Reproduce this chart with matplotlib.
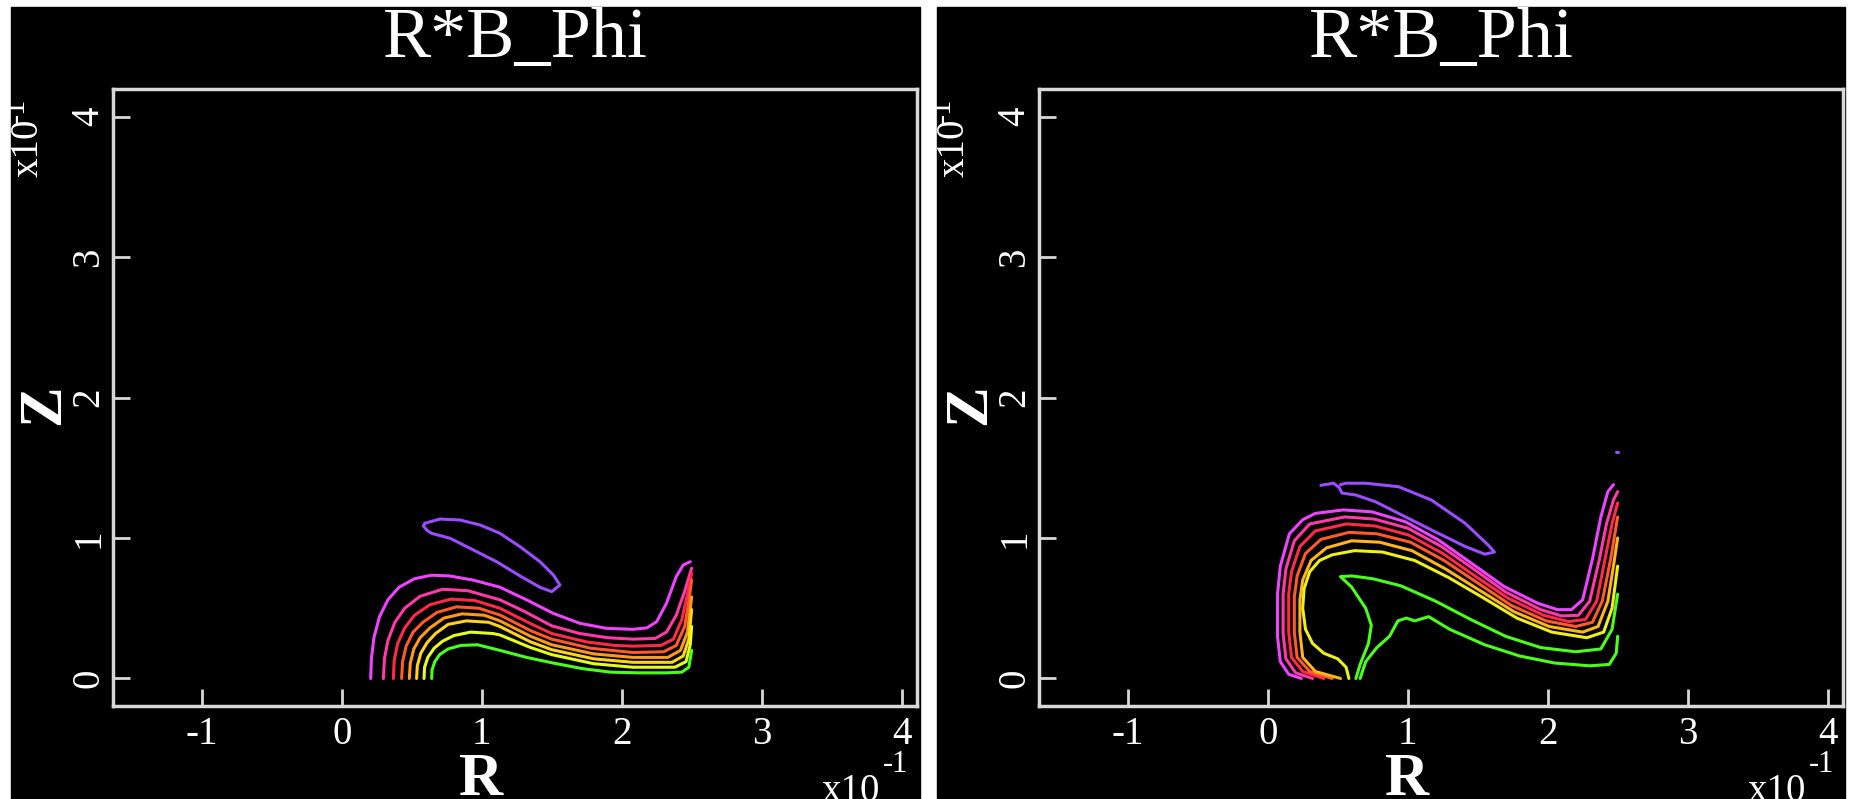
import matplotlib.pyplot as plt
from matplotlib.patches import Rectangle
import numpy as np

# contour lines of R*B_Phi, coordinates in units of 1e-1
# ---- left frame ----
L_magenta_r = [0.207, 0.212, 0.23, 0.27, 0.33, 0.41, 0.52, 0.64, 0.77, 0.94, 1.13, 1.32, 1.51, 1.70, 1.89, 2.08, 2.18, 2.25, 2.32, 2.39, 2.44, 2.49]
L_magenta_z = [0.00, 0.14, 0.29, 0.44, 0.56, 0.65, 0.71, 0.735, 0.73, 0.70, 0.65, 0.56, 0.464, 0.393, 0.357, 0.35, 0.36, 0.404, 0.535, 0.725, 0.808, 0.831]
L_pink_r = [0.298, 0.305, 0.33, 0.38, 0.45, 0.56, 0.72, 0.90, 1.13, 1.30, 1.50, 1.70, 1.90, 2.08, 2.24, 2.32, 2.39, 2.45, 2.50]
L_pink_z = [0.00, 0.14, 0.27, 0.40, 0.50, 0.585, 0.635, 0.625, 0.56, 0.48, 0.375, 0.32, 0.29, 0.28, 0.285, 0.33, 0.45, 0.62, 0.785]
L_red_r = [0.369, 0.375, 0.40, 0.45, 0.52, 0.63, 0.78, 0.95, 1.13, 1.35, 1.50, 1.75, 1.95, 2.08, 2.28, 2.37, 2.43, 2.47, 2.50]
L_red_z = [0.00, 0.13, 0.25, 0.36, 0.45, 0.525, 0.565, 0.555, 0.50, 0.39, 0.32, 0.26, 0.235, 0.23, 0.235, 0.28, 0.42, 0.60, 0.75]
L_ored_r = [0.428, 0.435, 0.46, 0.51, 0.58, 0.68, 0.82, 0.98, 1.13, 1.35, 1.50, 1.78, 2.08, 2.30, 2.39, 2.45, 2.48, 2.50]
L_ored_z = [0.00, 0.12, 0.23, 0.33, 0.40, 0.47, 0.51, 0.50, 0.452, 0.34, 0.28, 0.215, 0.185, 0.19, 0.235, 0.37, 0.55, 0.70]
L_orange_r = [0.483, 0.49, 0.515, 0.56, 0.63, 0.73, 0.86, 1.02, 1.13, 1.35, 1.50, 1.80, 2.08, 2.33, 2.42, 2.47, 2.50]
L_orange_z = [0.00, 0.11, 0.21, 0.29, 0.36, 0.43, 0.46, 0.45, 0.41, 0.30, 0.24, 0.175, 0.15, 0.15, 0.20, 0.33, 0.58]
L_yelor_r = [0.535, 0.54, 0.565, 0.61, 0.67, 0.76, 0.89, 1.05, 1.13, 1.35, 1.50, 1.80, 2.08, 2.36, 2.44, 2.48, 2.50]
L_yelor_z = [0.00, 0.09, 0.18, 0.255, 0.32, 0.385, 0.41, 0.40, 0.37, 0.26, 0.205, 0.14, 0.115, 0.115, 0.16, 0.28, 0.49]
L_yelgr_r = [0.588, 0.592, 0.615, 0.66, 0.72, 0.80, 0.92, 1.08, 1.13, 1.35, 1.50, 1.80, 2.08, 2.38, 2.46, 2.49, 2.50]
L_yelgr_z = [0.00, 0.08, 0.15, 0.215, 0.265, 0.305, 0.33, 0.32, 0.31, 0.22, 0.17, 0.105, 0.08, 0.08, 0.12, 0.24, 0.37]
L_green_r = [0.643, 0.645, 0.665, 0.70, 0.76, 0.85, 0.97, 1.13, 1.32, 1.51, 1.72, 1.92, 2.12, 2.32, 2.43, 2.48, 2.50]
L_green_z = [0.00, 0.06, 0.12, 0.17, 0.21, 0.235, 0.24, 0.20, 0.15, 0.11, 0.07, 0.045, 0.04, 0.04, 0.045, 0.08, 0.20]
L_purple_r = [0.595, 0.702, 0.845, 0.988, 1.131, 1.274, 1.417, 1.512, 1.559, 1.50, 1.417, 1.274, 1.107, 0.94, 0.774, 0.643, 0.612, 0.583, 0.595]
L_purple_z = [1.105, 1.135, 1.128, 1.093, 1.033, 0.938, 0.831, 0.737, 0.665, 0.618, 0.649, 0.73, 0.831, 0.915, 0.998, 1.033, 1.052, 1.085, 1.105]

# ---- right frame ----
R_magenta_r = [0.24, 0.15, 0.09, 0.07, 0.07, 0.09, 0.155, 0.25, 0.34, 0.54, 0.745, 0.985, 1.22, 1.456, 1.69, 1.93, 2.07, 2.17, 2.25, 2.32, 2.38, 2.43, 2.47]
R_magenta_z = [0.00, 0.03, 0.12, 0.30, 0.60, 0.80, 1.03, 1.13, 1.175, 1.20, 1.186, 1.115, 0.986, 0.82, 0.654, 0.535, 0.49, 0.49, 0.56, 0.85, 1.15, 1.33, 1.38]
R_pink_r = [0.32, 0.20, 0.13, 0.11, 0.11, 0.13, 0.19, 0.30, 0.55, 0.76, 1.00, 1.24, 1.47, 1.70, 1.95, 2.10, 2.22, 2.30, 2.37, 2.42, 2.47, 2.50]
R_pink_z = [0.00, 0.04, 0.14, 0.32, 0.60, 0.78, 0.98, 1.10, 1.15, 1.135, 1.07, 0.94, 0.78, 0.615, 0.49, 0.445, 0.45, 0.55, 0.85, 1.10, 1.27, 1.33]
R_red_r = [0.40, 0.25, 0.17, 0.15, 0.15, 0.17, 0.23, 0.34, 0.56, 0.77, 1.01, 1.25, 1.48, 1.72, 1.97, 2.15, 2.27, 2.35, 2.41, 2.46, 2.50]
R_red_z = [0.00, 0.05, 0.15, 0.33, 0.60, 0.76, 0.94, 1.05, 1.10, 1.085, 1.02, 0.89, 0.73, 0.57, 0.45, 0.405, 0.42, 0.55, 0.85, 1.10, 1.25]
R_ored_r = [0.46, 0.30, 0.21, 0.19, 0.19, 0.21, 0.27, 0.38, 0.58, 0.78, 1.02, 1.26, 1.50, 1.74, 1.99, 2.20, 2.32, 2.39, 2.45, 2.50]
R_ored_z = [0.00, 0.05, 0.15, 0.33, 0.58, 0.73, 0.89, 0.99, 1.04, 1.03, 0.97, 0.84, 0.68, 0.52, 0.41, 0.37, 0.40, 0.55, 0.85, 1.15]
R_orange_r = [0.52, 0.34, 0.25, 0.23, 0.23, 0.25, 0.31, 0.42, 0.60, 0.80, 1.03, 1.27, 1.51, 1.76, 2.01, 2.25, 2.36, 2.43, 2.47, 2.50]
R_orange_z = [0.00, 0.05, 0.15, 0.33, 0.56, 0.70, 0.84, 0.93, 0.98, 0.97, 0.91, 0.78, 0.63, 0.475, 0.37, 0.33, 0.37, 0.55, 0.80, 1.00]
R_yellow_r = [0.58, 0.56, 0.50, 0.40, 0.32, 0.27, 0.25, 0.26, 0.30, 0.37, 0.46, 0.62, 0.82, 1.05, 1.29, 1.53, 1.78, 2.03, 2.28, 2.40, 2.46, 2.50]
R_yellow_z = [0.00, 0.08, 0.14, 0.18, 0.25, 0.35, 0.50, 0.64, 0.76, 0.84, 0.88, 0.91, 0.90, 0.84, 0.72, 0.58, 0.43, 0.33, 0.29, 0.33, 0.50, 0.80]
R_green_r = [0.63, 0.66, 0.72, 0.74, 0.70, 0.66, 0.60, 0.52, 0.60, 0.75, 0.95, 1.20, 1.45, 1.70, 1.95, 2.20, 2.38, 2.46, 2.50]
R_green_z = [0.00, 0.10, 0.25, 0.38, 0.50, 0.56, 0.65, 0.725, 0.73, 0.71, 0.66, 0.55, 0.42, 0.30, 0.22, 0.19, 0.21, 0.35, 0.60]
R_green2_r = [0.66, 0.70, 0.78, 0.87, 0.93, 0.99, 1.05, 1.15, 1.30, 1.55, 1.80, 2.05, 2.30, 2.44, 2.49, 2.50]
R_green2_z = [0.00, 0.12, 0.22, 0.30, 0.41, 0.43, 0.41, 0.44, 0.35, 0.24, 0.16, 0.11, 0.09, 0.10, 0.18, 0.30]
R_purple_r = [0.38, 0.47, 0.51, 0.53, 0.63, 0.77, 0.935, 1.17, 1.41, 1.55, 1.62, 1.575, 1.41, 1.17, 0.935, 0.70, 0.56, 0.52]
R_purple_z = [1.375, 1.39, 1.36, 1.32, 1.306, 1.258, 1.175, 1.057, 0.94, 0.885, 0.90, 0.95, 1.105, 1.27, 1.365, 1.39, 1.39, 1.38]
R_dot_r = [2.49, 2.50]
R_dot_z = [1.61, 1.61]

ticks = [-1, 0, 1, 2, 3, 4]

c_mag = '#ee44ff'
c_pink = '#ff3aa8'
c_red = '#ff2a4a'
c_ored = '#ff5a2a'
c_orange = '#ff9a1a'
c_amber = '#ffb41a'
c_yelor = '#ffd41a'
c_yelgr = '#e4ff1a'
c_yellow = '#eef01a'
c_green = '#4cff1a'
c_purple = '#9a4dff'

left_lines = [
    (L_magenta_r, L_magenta_z, c_mag), (L_pink_r, L_pink_z, c_pink),
    (L_red_r, L_red_z, c_red), (L_ored_r, L_ored_z, c_ored),
    (L_orange_r, L_orange_z, c_orange), (L_yelor_r, L_yelor_z, c_yelor),
    (L_yelgr_r, L_yelgr_z, c_yelgr), (L_green_r, L_green_z, c_green),
    (L_purple_r, L_purple_z, c_purple),
]
right_lines = [
    (R_magenta_r, R_magenta_z, c_mag), (R_pink_r, R_pink_z, c_pink),
    (R_red_r, R_red_z, c_red), (R_ored_r, R_ored_z, c_ored),
    (R_orange_r, R_orange_z, c_amber), (R_yellow_r, R_yellow_z, c_yellow),
    (R_green_r, R_green_z, c_green), (R_green2_r, R_green2_z, c_green),
    (R_purple_r, R_purple_z, c_purple), (R_dot_r, R_dot_z, c_purple),
]

W, H = 1851, 799
fig = plt.figure(figsize=(W / 100, H / 100), dpi=100)
fig.patch.set_facecolor('white')
serif = ['Liberation Serif', 'DejaVu Serif']
fg = '#d8d8d8'


def frame(x0, x1, lines):
    # black panel behind each plot
    fig.patches.append(Rectangle((x0 / W, 0), (x1 - x0) / W, 1 - 7 / H,
                                 transform=fig.transFigure, color='black', zorder=-10))
    ax_left = x0 + 102
    ax = fig.add_axes([ax_left / W, 93 / H, 804 / W, 617.5 / H])
    ax.set_facecolor('black')
    for r, z, c in lines:
        ax.plot(r, z, color=c, lw=2.2, solid_capstyle='round', solid_joinstyle='round')
    ax.set_xlim(-1.634, 4.11)
    ax.set_ylim(-0.196, 4.2)
    ax.set_xticks(ticks)
    ax.set_yticks([0, 1, 2, 3, 4])
    ax.set_xticklabels([str(t) for t in ticks])
    ax.set_yticklabels(['0', '1', '2', '3', '4'])
    for s in ax.spines.values():
        s.set_color(fg)
        s.set_linewidth(2.5)
    ax.tick_params(direction='in', length=12, width=2, color=fg, labelcolor='white',
                   labelsize=28, top=False, right=False, pad=7)
    ax.tick_params(axis='y', labelrotation=90, pad=4)
    for lab in ax.get_xticklabels() + ax.get_yticklabels():
        lab.set_family(serif)
    for lab in ax.get_yticklabels():
        lab.set_va('center')
    cx = (ax_left + 402) / W
    fig.text(cx, 1 - 57 / H, 'R*B_Phi', color='white', fontsize=52, family=serif,
             ha='center', va='baseline')
    fig.text((x0 + 470) / W, 1 - 795 / H, 'R', color='white', fontsize=44, family=serif,
             weight='bold', ha='center', va='baseline')
    fig.text((x0 + 33) / W, 1 - 405 / H, 'Z', color='white', fontsize=44, family=serif,
             weight='bold', ha='center', va='center', rotation=90)
    # axis multipliers
    fig.text((x0 + 869) / W, 1 - 801 / H, 'x10', color='white', fontsize=28, family=serif,
             ha='right', va='baseline')
    fig.text((x0 + 872) / W, 1 - 772 / H, '-1', color='white', fontsize=22, family=serif,
             ha='left', va='baseline')
    fig.text((x0 + 17) / W, 1 - 177 / H, 'x10', color='white', fontsize=28, family=serif,
             ha='center', va='bottom', rotation=90)
    fig.text((x0 + 5) / W, 1 - 123 / H, '-1', color='white', fontsize=22, family=serif,
             ha='center', va='bottom', rotation=90)
    return ax


frame(11, 920, left_lines)
frame(937, 1845, right_lines)

fig.savefig('out.png', dpi=100, facecolor='white')
